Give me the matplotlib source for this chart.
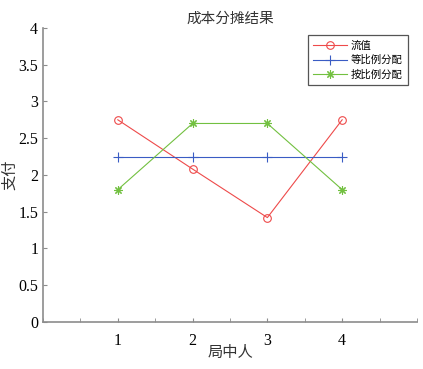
import matplotlib.pyplot as plt
from matplotlib.ticker import MultipleLocator, FixedLocator

plt.rcParams['font.family'] = ['Liberation Serif', 'Noto Sans CJK SC']

people = [1, 2, 3, 4]
flow_value = [2.75, 2.08, 1.42, 2.75]
equal_split = [2.25, 2.25, 2.25, 2.25]
prop_split = [1.8, 2.7, 2.7, 1.8]

fig = plt.figure(figsize=(4.23, 3.69), dpi=100)
ax = fig.add_axes([0.1017, 0.1274, 0.884, 0.797])

red, blue, green = '#ee4a4a', '#3a5cc4', '#72c040'
ax.plot(people, flow_value, color=red, lw=0.8, marker='o', ms=5.5,
        mfc='none', mec=red, mew=0.8, label='流值')
ax.plot(people, equal_split, color=blue, lw=0.8, marker='+', ms=7,
        mew=0.8, label='等比例分配')
ax.plot(people, prop_split, color=green, lw=0.8, marker=(8, 2, 0), ms=6,
        mew=0.8, label='按比例分配')

ax.set_xlim(0, 5)
ax.set_ylim(0, 4)
ax.xaxis.set_major_locator(FixedLocator(people))
ax.xaxis.set_minor_locator(MultipleLocator(0.5))
ax.yaxis.set_major_locator(MultipleLocator(0.5))
ax.yaxis.set_major_formatter(plt.FuncFormatter(lambda v, p: f'{v:g}'))

for s in ['top', 'right']:
    ax.spines[s].set_visible(False)
for s in ['left', 'bottom']:
    ax.spines[s].set_color('#8c8c8c')
    ax.spines[s].set_linewidth(1.2)
ax.tick_params(which='both', direction='in', color='#8c8c8c', length=3,
               labelsize=11.5)
ax.tick_params(axis='x', pad=8)

ax.set_title('成本分摊结果', family=['Noto Sans CJK SC'], fontsize=10.5,
             color='#333333', pad=4)
ax.set_xlabel('局中人', family=['Noto Sans CJK SC'], fontsize=11, color='#333333')
ax.set_ylabel('支付', family=['Noto Sans CJK SC'], fontsize=11, color='#333333')
ax.xaxis.label.set_va('center')
ax.yaxis.label.set_va('center')
ax.xaxis.set_label_coords(0.5, -0.105)
ax.yaxis.set_label_coords(-0.088, 0.5)

leg = ax.legend(loc='upper right', bbox_to_anchor=(0.99, 0.992),
                prop={'family': 'Noto Sans CJK SC', 'size': 7.5},
                fancybox=False, framealpha=1, borderpad=0.5,
                labelspacing=0.4, handlelength=3.2, handletextpad=0.4)
leg.get_frame().set_edgecolor('#555555')
leg.get_frame().set_linewidth(0.9)

fig.savefig('out.png', dpi=100)
